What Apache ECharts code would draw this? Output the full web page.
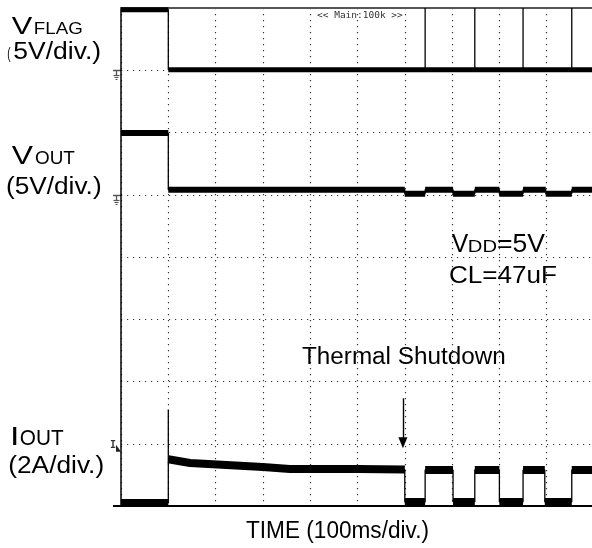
<!DOCTYPE html>
<html><head><meta charset="utf-8">
<script src="https://cdn.jsdelivr.net/npm/echarts@6/dist/echarts.min.js"></script>
<style>html,body{margin:0;padding:0;background:#fff}#c{width:592px;height:548px}</style>
</head><body><div id="c"></div>
<script>
// time axis in ms (100 ms/div), 10 divisions
const timeRange = [0, 1000];
const timeStep = 100;
// vertical: 8 divisions
const divRange = [0, 8];
// traces in physical units: [time ms, value]
const vflag = [[0,4.85],[100,4.85],[100,0.05],[643,0.05],[643,5],[643,0.05],[748,0.05],[748,5],[748,0.05],[850,0.05],[850,5],[850,0.05],[953,0.05],[953,5],[953,0.05],[1000,0.05]];
const vout = [[0,4.95],[100,4.95],[100,0.4],[600,0.4],[600,0.08],[643,0.08],[643,0.4],[702,0.4],[702,0.08],[748,0.08],[748,0.4],[800,0.4],[800,0.08],[850,0.08],[850,0.4],[898,0.4],[898,0.08],[953,0.08],[953,0.4],[1000,0.4]];
const iout = [[0,0.1],[100,0.1],[100,3.1],[100,1.5],[146,1.38],[300,1.25],[357,1.19],[500,1.19],[600,1.17],[600,0.13],[643,0.13],[643,1.16],[702,1.16],[702,0.13],[748,0.13],[748,1.16],[800,1.16],[800,0.13],[850,0.13],[850,1.16],[896,1.16],[896,0.13],[953,0.13],[953,1.16],[1000,1.16]];
// channel scales: units per division, ground level (divisions from bottom)
const chVflag = {perDiv:5, ground:7};
const chVout = {perDiv:5, ground:5};
const chIout = {perDiv:2, ground:0};
// thermal shutdown marker (time ms, IOUT amps from..to)
const shutdownTime = 596;
const shutdownArrow = [3.46, 2.03];

function toDiv(pts, ch){ return pts.map(p => [p[0], ch.ground + p[1]/ch.perDiv]); }
function thick(pts){
  const out = [];
  pts.forEach((p,i) => {
    if (i>0 && p[0] === pts[i-1][0]) out.push([p[0], null]);
    out.push(p);
  });
  return out;
}
const chart = echarts.init(document.getElementById('c'), null, {renderer:'canvas'});
const traces = [
  {pts: toDiv(vflag, chVflag), w: 5},
  {pts: toDiv(vout, chVout), w: 6},
  {pts: toDiv(iout, chIout), w: 8}
];
const series = [];
traces.forEach(t => {
  series.push({type:'line', data:t.pts, symbol:'none', silent:true, animation:false,
    lineStyle:{color:'#000', width:1.3}, z:3});
  series.push({type:'line', data:thick(t.pts), symbol:'none', silent:true, animation:false,
    connectNulls:false, lineStyle:{color:'#000', width:t.w, cap:'butt'}, z:3});
});
series.push({type:'line', data:[], symbol:'none', silent:true, animation:false,
  markLine:{silent:true, animation:false, symbol:['none','triangle'], symbolSize:[9,11],
    lineStyle:{color:'#000', width:1.4, type:'solid'}, label:{show:false},
    data:[[{coord:[shutdownTime, chIout.ground + shutdownArrow[0]/chIout.perDiv]},
           {coord:[shutdownTime, chIout.ground + shutdownArrow[1]/chIout.perDiv]}]]}});

const dotted = {show:true, lineStyle:{color:'#333', width:1.2, type:[1.2,4.8]}};
chart.setOption({
  animation:false,
  grid:{left:121, top:8, right:-2, bottom:42, outerBoundsMode:'none', containLabel:false},
  xAxis:[{type:'value', min:timeRange[0], max:timeRange[1], interval:timeStep,
    axisLine:{show:true, lineStyle:{color:'#000', width:2}}, axisTick:{show:false}, axisLabel:{show:false},
    splitLine:dotted},
    {type:'value', position:'top', min:timeRange[0], max:timeRange[1], interval:timeStep,
    axisLine:{show:true, onZero:false, lineStyle:{color:'#555', width:2}}, axisTick:{show:false}, axisLabel:{show:false},
    splitLine:{show:false}}],
  yAxis:{type:'value', min:divRange[0], max:divRange[1], interval:1,
    axisLine:{show:true, onZero:false, lineStyle:{color:'#000', width:1.5}}, axisTick:{show:false}, axisLabel:{show:false},
    splitLine:dotted},
  series: series
});

// decorations: channel ground markers and labels
const g = [];
function gnd(div){
  const p = chart.convertToPixel({gridIndex:0}, [0, div]);
  const x = p[0], y = Math.round(p[1]) + 0.5;
  const c = '#555';
  g.push({type:'line', shape:{x1:x-8, y1:y, x2:x, y2:y}, style:{stroke:c, lineWidth:1.5}, silent:true});
  g.push({type:'line', shape:{x1:x-4.5, y1:y, x2:x-4.5, y2:y+5}, style:{stroke:c, lineWidth:1.3}, silent:true});
  g.push({type:'line', shape:{x1:x-7.5, y1:y+5, x2:x-1.5, y2:y+5}, style:{stroke:c, lineWidth:1.2}, silent:true});
  g.push({type:'line', shape:{x1:x-6.5, y1:y+7, x2:x-2.5, y2:y+7}, style:{stroke:c, lineWidth:1.1}, silent:true});
  g.push({type:'line', shape:{x1:x-5.5, y1:y+9, x2:x-3.5, y2:y+9}, style:{stroke:c, lineWidth:1}, silent:true});
}
gnd(chVflag.ground);
gnd(chVout.ground);
const pb = chart.convertToPixel({gridIndex:0}, [0, chIout.ground]);
g.push({type:'line', shape:{x1:pb[0]-8, y1:pb[1], x2:pb[0], y2:pb[1]}, style:{stroke:'#000', lineWidth:2}, silent:true});
const pi = chart.convertToPixel({gridIndex:0}, [0, 1]);
g.push({type:'text', x:pi[0]-11, y:pi[1]+7, style:{text:'I', font:'bold 10px "DejaVu Sans Mono"', fill:'#333', verticalAlign:'bottom'}, silent:true});
g.push({type:'polygon', shape:{points:[[pi[0]-5,pi[1]+1],[pi[0],pi[1]+8],[pi[0]-5,pi[1]+8]]}, style:{fill:'#222'}, silent:true});

const F = '"Liberation Sans", Arial, Helvetica, sans-serif';
const mc = document.createElement('canvas').getContext('2d');
// place text so its ink spans [L,R] horizontally, sitting on baseline, with given cap height
function txt(str, L, R, base, cap){
  mc.textBaseline = 'alphabetic';
  mc.font = '100px ' + F;
  const capRef = mc.measureText('H').actualBoundingBoxAscent;
  const size = cap / capRef * 100;
  const font = size.toFixed(2) + 'px ' + F;
  mc.font = font;
  const m = mc.measureText(str);
  const capA = mc.measureText('H').actualBoundingBoxAscent;
  mc.textBaseline = 'middle';
  const off = capA - mc.measureText('H').actualBoundingBoxAscent;
  const inkW = m.actualBoundingBoxRight + m.actualBoundingBoxLeft;
  const sx = (R - L) / inkW;
  g.push({type:'text', x: L + sx * m.actualBoundingBoxLeft, y: base - off, scaleX: sx, silent:true,
    style:{text:str, font:font, fill:'#000', align:'left', verticalAlign:'middle'}});
}
txt('V', 11.7, 33.3, 34, 16.7);
txt('FLAG', 35, 82, 34, 11.3);
txt('(', 7.3, 11, 59, 11);
txt('5V/div.)', 13.3, 100, 59, 16.7);
txt('V', 11.7, 33.3, 164, 17.3);
txt('OUT', 35, 75, 164, 12.3);
txt('(5V/div.)', 7, 100.5, 194, 16.7);
txt('I', 12.7, 16.7, 445, 17.5);
txt('OUT', 20.7, 63.3, 445, 15);
txt('(2A/div.)', 9.3, 103, 473, 16.7);
txt('TIME (100ms/div.)', 246, 428, 538, 16.7);
txt('Thermal Shutdown', 302, 505, 364, 17);
txt('V', 451.7, 468.3, 252, 17.5);
txt('DD', 469, 496.7, 252, 11.7);
txt('=5V', 498, 545, 252, 17.5);
txt('CL=47uF', 450, 557, 283, 17);
g.push({type:'text', x:317, y:16, silent:true, style:{text:'<< Main:100k >>', font:'9.5px "DejaVu Sans Mono"', fill:'#333', verticalAlign:'middle'}});
chart.setOption({graphic:g});
</script>
</body></html>
